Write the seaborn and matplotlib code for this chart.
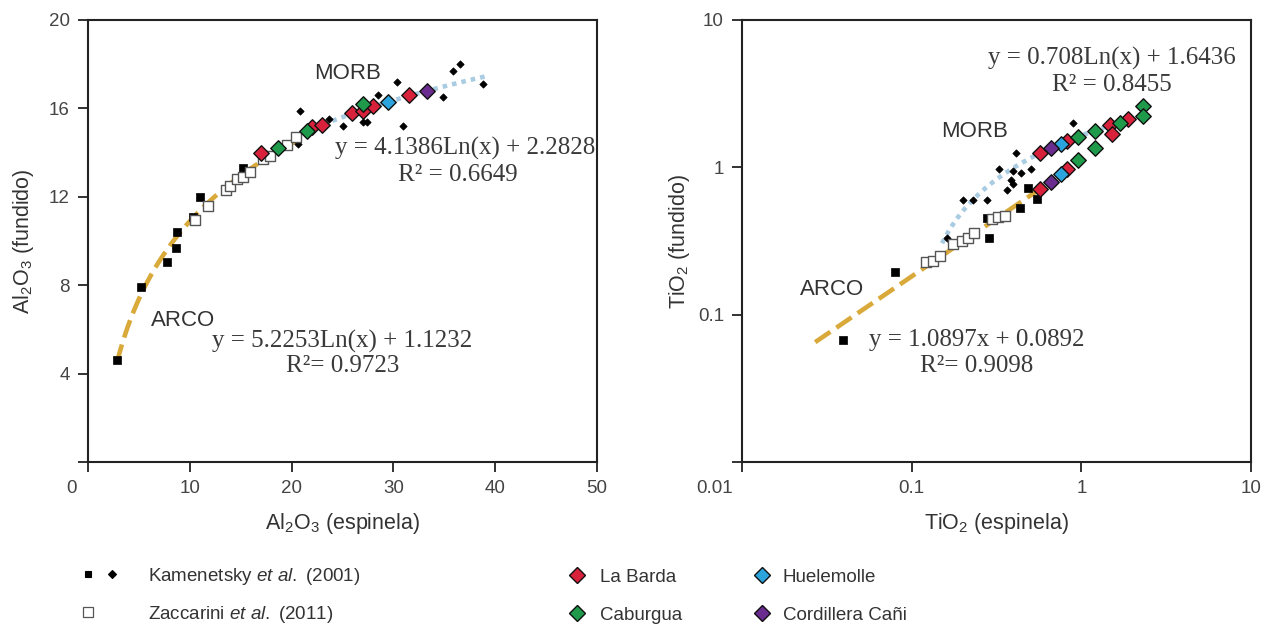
import numpy as np
import pandas as pd
import seaborn as sns
import matplotlib.pyplot as plt
from matplotlib.lines import Line2D
from matplotlib.legend_handler import HandlerTuple
from matplotlib.transforms import ScaledTranslation

# ---------------- data ----------------
# left panel: Al2O3 spinel (x) vs Al2O3 melt (y)
al_kam_sq_x = [2.85, 5.2, 7.8, 8.6, 8.7, 10.3, 11.0, 15.2]
al_kam_sq_y = [4.6, 7.9, 9.05, 9.7, 10.4, 11.1, 12.0, 13.3]
al_kam_di_x = [20.8, 20.6, 23.7, 25.0, 27.0, 27.4, 28.5, 30.4, 30.9, 34.9, 35.9, 36.5, 38.8]
al_kam_di_y = [15.9, 14.4, 15.5, 15.2, 15.4, 15.4, 16.6, 17.2, 15.2, 16.5, 17.7, 18.0, 17.1]
al_zac_x = [10.5, 11.8, 13.6, 13.9, 14.6, 15.2, 15.9, 17.2, 17.9, 19.5, 20.4]
al_zac_y = [10.95, 11.6, 12.3, 12.5, 12.8, 12.9, 13.1, 13.7, 13.85, 14.35, 14.7]
al_barda_x = [17.0, 22.0, 23.0, 25.9, 27.0, 28.0, 31.5]
al_barda_y = [14.0, 15.15, 15.25, 15.8, 15.9, 16.1, 16.6]
al_caburgua_x = [18.7, 21.5, 27.0]
al_caburgua_y = [14.2, 15.0, 16.2]
al_huele_x = [29.5]
al_huele_y = [16.3]
al_cani_x = [33.3]
al_cani_y = [16.8]

# right panel: TiO2 spinel (x) vs TiO2 melt (y)
ti_kam_sq_x = [0.0394, 0.0798, 0.286, 0.278, 0.434, 0.484, 0.547]
ti_kam_sq_y = [0.0676, 0.196, 0.334, 0.45, 0.526, 0.72, 0.605]
ti_kam_di_x = [0.161, 0.20, 0.23, 0.278, 0.365, 0.385, 0.395, 0.395, 0.44, 0.505, 0.327, 0.41, 0.89]
ti_kam_di_y = [0.33, 0.60, 0.60, 0.60, 0.70, 0.82, 0.77, 0.94, 0.91, 0.97, 0.98, 1.26, 1.99]
ti_zac_x = [0.121, 0.134, 0.147, 0.175, 0.198, 0.215, 0.233, 0.297, 0.323, 0.355]
ti_zac_y = [0.226, 0.233, 0.252, 0.30, 0.318, 0.334, 0.356, 0.443, 0.457, 0.471]
ti_barda_x = [0.57, 0.82, 1.47, 1.51, 1.88, 0.57, 0.82]
ti_barda_y = [1.245, 1.5, 1.93, 1.68, 2.12, 0.708, 0.97]
ti_caburgua_x = [0.955, 1.20, 1.20, 1.69, 2.31, 2.31, 0.955]
ti_caburgua_y = [1.60, 1.76, 1.35, 1.99, 2.60, 2.22, 1.13]
ti_huele_x = [0.758, 0.758]
ti_huele_y = [1.43, 0.90]
ti_cani_x = [0.662, 0.662]
ti_cani_y = [1.35, 0.80]

# printed MORB trend equations (y = a*Ln(x) + b)
morb_al_fit = (4.1386, 2.2828)
morb_ti_fit = (0.708, 1.6436)

eq_al_morb = ["y = 4.1386Ln(x) + 2.2828", "R² = 0.6649"]
eq_al_arco = ["y = 5.2253Ln(x) + 1.1232", "R²= 0.9723"]
eq_ti_morb = ["y = 0.708Ln(x) + 1.6436", "R² = 0.8455"]
eq_ti_arco = ["y = 1.0897x + 0.0892", "R²= 0.9098"]

site_names = ["La Barda", "Caburgua", "Huelemolle", "Cordillera Cañi"]
site_colors = ["#D8213B", "#1E9A4A", "#2BA3DD", "#6A2C8E"]

ARCO_C = "#D9A93A"
MORB_C = "#A9CCE2"
TXT_C = "#333333"

sns.set_theme(style="ticks")
plt.rcParams["font.family"] = ["Liberation Sans", "DejaVu Sans"]
plt.rcParams["mathtext.fontset"] = "custom"
plt.rcParams["mathtext.rm"] = "Liberation Sans"
plt.rcParams["mathtext.it"] = "Liberation Sans:italic"

fig = plt.figure(figsize=(12.77, 6.27), dpi=100)
ax1 = fig.add_axes([88 / 1277, 165 / 627, 509 / 1277, 442 / 627])
ax2 = fig.add_axes([742 / 1277, 165 / 627, 509 / 1277, 442 / 627])


def scatter_groups(ax, groups):
    for x, y, marker, face, edge, s, lw in groups:
        sns.scatterplot(x=x, y=y, ax=ax, marker=marker, color=face,
                        edgecolor=edge, s=s, linewidth=lw, zorder=3)


def base_groups(sq_x, sq_y, di_x, di_y, zx, zy):
    return [
        (di_x, di_y, "D", "black", "black", 14, 0.5),
        (sq_x, sq_y, "s", "black", "black", 26, 0.5),
        (zx, zy, "s", "white", "#555555", 55, 1.0),
    ]


# ---------------- left panel ----------------
arco_al_x = np.array(al_kam_sq_x + al_zac_x)
arco_al_y = np.array(al_kam_sq_y + al_zac_y)
sns.regplot(x=arco_al_x, y=arco_al_y, logx=True, scatter=False, ci=None,
            ax=ax1, line_kws=dict(color=ARCO_C, lw=3.3, dashes=(4, 1.6), zorder=2))
xm = np.linspace(20.5, 39.3, 80)
ax1.plot(xm, morb_al_fit[0] * np.log(xm) + morb_al_fit[1], color=MORB_C,
         lw=3.3, dashes=(1, 1.1), zorder=2)

grp = base_groups(al_kam_sq_x, al_kam_sq_y, al_kam_di_x, al_kam_di_y, al_zac_x, al_zac_y)
for (x, y), c in zip([(al_barda_x, al_barda_y), (al_caburgua_x, al_caburgua_y),
                      (al_huele_x, al_huele_y), (al_cani_x, al_cani_y)], site_colors):
    grp.append((x, y, "D", c, "#111111", 62, 1.0))
scatter_groups(ax1, grp)

ax1.set_xlim(0, 50)
ax1.set_ylim(0, 20)
ax1.set_xticks([0, 10, 20, 30, 40, 50])
ax1.set_yticks([0, 4, 8, 12, 16, 20])
ax1.set_yticklabels(["", "4", "8", "12", "16", "20"])
ax1.set_xlabel("Al$_2$O$_3$ (espinela)", fontsize=15.5, color=TXT_C, labelpad=10)
ax1.set_ylabel("Al$_2$O$_3$ (fundido)", fontsize=15.5, color=TXT_C, labelpad=9)

ax1.text(25.5, 17.6, "MORB", fontsize=16, color=TXT_C, ha="center", va="center")
ax1.text(9.3, 6.4, "ARCO", fontsize=16, color=TXT_C, ha="center", va="center")
serif = dict(family="Liberation Serif", fontsize=18, color="#3a3a3a", ha="center", va="center")
ax1.text(37.0, 14.2, eq_al_morb[0], **serif)
ax1.text(36.3, 13.0, eq_al_morb[1], **serif)
ax1.text(25.0, 5.45, eq_al_arco[0], **serif)
ax1.text(25.0, 4.35, eq_al_arco[1], **serif)

# ---------------- right panel ----------------
ax2.set_xscale("log")
ax2.set_yscale("log")
arco_ti_x = np.array(ti_kam_sq_x + ti_zac_x)
arco_ti_y = np.array(ti_kam_sq_y + ti_zac_y)
k, c0 = np.polyfit(np.log10(arco_ti_x), np.log10(arco_ti_y), 1)
xa = np.geomspace(0.027, 0.62, 60)
ax2.plot(xa, 10 ** (c0 + k * np.log10(xa)), color=ARCO_C, lw=3.3,
         dashes=(4, 1.6), zorder=2)
xm2 = np.geomspace(0.151, 1.53, 80)
ax2.plot(xm2, morb_ti_fit[0] * np.log(xm2) + morb_ti_fit[1], color=MORB_C,
         lw=3.3, dashes=(1, 1.1), zorder=2)

grp = base_groups(ti_kam_sq_x, ti_kam_sq_y, ti_kam_di_x, ti_kam_di_y, ti_zac_x, ti_zac_y)
for (x, y), c in zip([(ti_barda_x, ti_barda_y), (ti_caburgua_x, ti_caburgua_y),
                      (ti_huele_x, ti_huele_y), (ti_cani_x, ti_cani_y)], site_colors):
    grp.append((x, y, "D", c, "#111111", 62, 1.0))
scatter_groups(ax2, grp)

ax2.set_xlim(0.01, 10)
ax2.set_ylim(0.01, 10)
ax2.set_xticks([0.01, 0.1, 1, 10])
ax2.set_xticklabels(["0.01", "0.1", "1", "10"])
ax2.set_yticks([0.01, 0.1, 1, 10])
ax2.set_yticklabels(["", "0.1", "1", "10"])
ax2.minorticks_off()
ax2.set_xlabel("TiO$_2$ (espinela)", fontsize=15.5, color=TXT_C, labelpad=10)
ax2.set_ylabel("TiO$_2$ (fundido)", fontsize=15.5, color=TXT_C, labelpad=4)

ax2.text(0.236, 1.76, "MORB", fontsize=16, color=TXT_C, ha="center", va="center")
ax2.text(0.0339, 0.148, "ARCO", fontsize=16, color=TXT_C, ha="center", va="center")
ax2.text(1.51, 5.51, eq_ti_morb[0], **serif)
ax2.text(1.51, 3.61, eq_ti_morb[1], **serif)
ax2.text(0.242, 0.0676, eq_ti_arco[0], **serif)
ax2.text(0.242, 0.045, eq_ti_arco[1], **serif)

for ax, shift in ((ax1, -12), (ax2, -20)):
    for sp in ax.spines.values():
        sp.set_visible(True)
        sp.set_linewidth(1.5)
        sp.set_color("#222222")
    ax.tick_params(direction="out", length=7, width=1.3, color="#222222",
                   labelsize=13.5, labelcolor="#444444", pad=6)
    first = ax.xaxis.get_major_ticks()[0].label1
    first.set_transform(first.get_transform() +
                        ScaledTranslation(shift / 72, 0, fig.dpi_scale_trans))

# ---------------- legend ----------------
def mk(marker, face, edge, size, lw=0.8):
    return Line2D([], [], ls="none", marker=marker, markerfacecolor=face,
                  markeredgecolor=edge, markersize=size, markeredgewidth=lw)


leg_font = dict(family="Liberation Sans", size=13.5)
h_kam = (mk("s", "black", "black", 4.5), mk("D", "black", "black", 3.6))
h_zac = (mk("s", "white", "#555555", 7, 0.9), mk("s", "none", "none", 4))
fig.legend([h_kam, h_zac],
           ["Kamenetsky $\\mathit{et\\ al.}$ (2001)", "Zaccarini $\\mathit{et\\ al.}$ (2011)"],
           handler_map={tuple: HandlerTuple(ndivide=None, pad=0)},
           loc="upper left", bbox_to_anchor=(76 / 1277, 0.098), frameon=False,
           borderpad=0, borderaxespad=0, handlelength=2.56, handletextpad=1.28,
           labelspacing=0.92, prop=leg_font, labelcolor=TXT_C)

dh = [mk("D", c, "#111111", 8.5, 1.0) for c in site_colors]
fig.legend([dh[0], dh[1]], site_names[:2], loc="upper left",
           bbox_to_anchor=(567.6 / 1277, 0.093), frameon=False, borderpad=0,
           borderaxespad=0, handlelength=1.0, handletextpad=0.73,
           labelspacing=1.1, prop=leg_font, labelcolor=TXT_C)
fig.legend([dh[2], dh[3]], site_names[2:], loc="upper left",
           bbox_to_anchor=(752.6 / 1277, 0.093), frameon=False, borderpad=0,
           borderaxespad=0, handlelength=1.0, handletextpad=0.62,
           labelspacing=1.1, prop=leg_font, labelcolor=TXT_C)

fig.savefig("out.png", dpi=100, facecolor="white")
